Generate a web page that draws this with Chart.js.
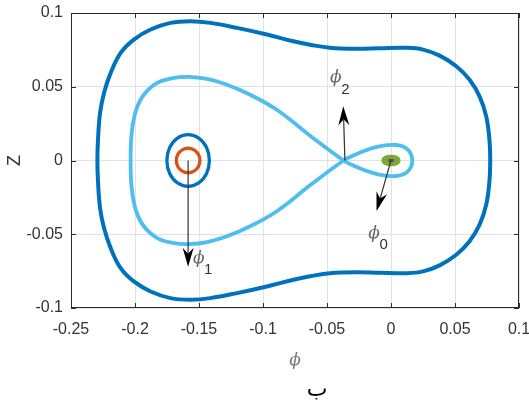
<!DOCTYPE html>
<html>
<head>
<meta charset="utf-8">
<script src="https://cdn.jsdelivr.net/npm/chart.js@4"></script>
<style>
  html, body { margin: 0; padding: 0; background: #fff; }
  #wrap { width: 529px; height: 405px; }
</style>
</head>
<body>
<div id="wrap"><canvas id="phaseChart"></canvas></div>
<script>
// tick values and labels
const xTicks = [-0.25, -0.2, -0.15, -0.1, -0.05, 0, 0.05, 0.1];
const xTickLabels = ["-0.25", "-0.2", "-0.15", "-0.1", "-0.05", "0", "0.05", "0.1"];
const yTicks = [-0.1, -0.05, 0, 0.05, 0.1];
const yTickLabels = ["-0.1", "-0.05", "0", "0.05", "0.1"];

// outer orbit, upper half from left to right (lower half is the mirror image)
const outerPhi = [-0.2294, -0.2289, -0.2273, -0.2242, -0.2190, -0.2112, -0.2009, -0.1878, -0.1723,
                  -0.1567, -0.1411, -0.1203, -0.0970, -0.0762, -0.0632, -0.0477, -0.0269, -0.0087,
                  0.0121, 0.0250, 0.0380, 0.0510, 0.0614, 0.0692, 0.0744, 0.0769, 0.0775];
const outerZ = [0, 0.0141, 0.0322, 0.0458, 0.0594, 0.0730, 0.0820, 0.0888, 0.0933,
                0.0944, 0.0933, 0.0899, 0.0854, 0.0808, 0.0785, 0.0764, 0.0757, 0.0761,
                0.0764, 0.0752, 0.0711, 0.0639, 0.0548, 0.0435, 0.0299, 0.0141, 0];

// separatrix (figure eight), left lobe from leftmost point to the crossing
const sepLeftPhi = [-0.2034, -0.2026, -0.1992, -0.1931, -0.1826, -0.1697, -0.1580, -0.1437,
                    -0.1281, -0.1100, -0.0892, -0.0620, -0.0370];
const sepLeftZ = [0, 0.0186, 0.0340, 0.0446, 0.0526, 0.0560, 0.0567, 0.0553,
                  0.0514, 0.0446, 0.0344, 0.0160, 0];
// right lobe from the crossing to rightmost point
const sepRightPhi = [-0.0370, -0.0290, -0.0200, -0.0110, -0.0030, 0.0040, 0.0098, 0.0138, 0.0160, 0.0166];
const sepRightZ = [0, 0.0036, 0.0068, 0.0092, 0.0104, 0.0105, 0.0094, 0.0068, 0.0035, 0];

// small orbit around phi1 (upper half)
const innerPhi = [-0.1751, -0.1729, -0.1668, -0.1585, -0.1502, -0.1441, -0.1419];
const innerZ = [0, 0.0088, 0.0152, 0.0175, 0.0152, 0.0088, 0];

// smallest orbit around phi1 (upper half)
const tinyPhi = [-0.1677, -0.1665, -0.1631, -0.1585, -0.1539, -0.1505, -0.1493];
const tinyZ = [0, 0.0042, 0.0072, 0.0083, 0.0072, 0.0042, 0];

// blob at phi0 (upper half)
const blobPhi = [-0.0055, -0.0039, 0, 0.0039, 0.0055];
const blobZ = [0, 0.0016, 0.0022, 0.0016, 0];

// fixed point marker
const centerPhi = [-0.002, 0.002];
const centerZ = [0, 0];

// arrows pointing at the equilibria
const arrowNames = ["1", "2", "0"];
const arrowFrom = [[-0.1585, 0], [-0.0360, 0], [0, 0]];
const arrowTo = [[-0.1585, -0.0720], [-0.0373, 0.0367], [-0.0113, -0.0343]];
const arrowText = [[-0.1502, -0.0663], [-0.0431, 0.0560], [-0.0132, -0.0493]];

function mirrorLoop(phi, z) {
    const pts = phi.map((p, i) => ({x: p, y: z[i]}));
    for (let i = phi.length - 2; i >= 1; i--) pts.push({x: phi[i], y: -z[i]});
    return pts;
}

function figureEight(lp, lz, rp, rz) {
    const pts = [{x: rp[0], y: 0}];
    for (let i = 1; i < rp.length; i++) pts.push({x: rp[i], y: -rz[i]});
    for (let i = rp.length - 2; i >= 1; i--) pts.push({x: rp[i], y: rz[i]});
    pts.push({x: lp[lp.length - 1], y: 0});
    for (let i = lp.length - 2; i >= 0; i--) pts.push({x: lp[i], y: -lz[i]});
    for (let i = 1; i <= lp.length - 2; i++) pts.push({x: lp[i], y: lz[i]});
    return pts;
}

// repeat the ends so the spline closes smoothly; the two extra end pieces are hidden
function closeLoop(pts) {
    const n = pts.length;
    return [pts[n - 1], ...pts, pts[0], pts[1]];
}

function curve(data, color, width, tension, loop) {
    const ds = {
        data: data,
        showLine: true,
        borderColor: color,
        borderWidth: width,
        pointRadius: 0,
        pointHoverRadius: 0,
        tension: tension,
        fill: false
    };
    if (loop) {
        ds.segment = {
            borderColor: c => (c.p0DataIndex === 0 || c.p1DataIndex === data.length - 1) ? "rgba(0,0,0,0)" : undefined
        };
    }
    return ds;
}

const tickFont = {family: "'Liberation Sans', Arial, sans-serif", size: 16};

const overlay = {
    id: "overlay",
    afterDatasetsDraw(chart) {
        const ctx = chart.ctx;
        const xs = chart.scales.x, ys = chart.scales.y;
        const a = chart.chartArea;
        ctx.save();

        // box and inward ticks
        ctx.strokeStyle = "#2b2b2b";
        ctx.lineWidth = 1;
        ctx.strokeRect(a.left + 0.5, a.top + 0.5, a.right - a.left - 1, a.bottom - a.top - 1);
        ctx.beginPath();
        xTicks.forEach(v => {
            const px = Math.round(xs.getPixelForValue(v)) + 0.5;
            ctx.moveTo(px, a.bottom); ctx.lineTo(px, a.bottom - 5);
            ctx.moveTo(px, a.top); ctx.lineTo(px, a.top + 5);
        });
        yTicks.forEach(v => {
            const py = Math.round(ys.getPixelForValue(v)) + 0.5;
            ctx.moveTo(a.left, py); ctx.lineTo(a.left + 5, py);
            ctx.moveTo(a.right, py); ctx.lineTo(a.right - 5, py);
        });
        ctx.stroke();

        // arrows
        arrowFrom.forEach((f, i) => {
            const x0 = xs.getPixelForValue(f[0]), y0 = ys.getPixelForValue(f[1]);
            const x1 = xs.getPixelForValue(arrowTo[i][0]), y1 = ys.getPixelForValue(arrowTo[i][1]);
            const ang = Math.atan2(y1 - y0, x1 - x0);
            const ux = Math.cos(ang), uy = Math.sin(ang);
            const L = 19, W = 11, notch = 6;
            ctx.strokeStyle = "#333";
            ctx.lineWidth = 1.2;
            ctx.beginPath();
            ctx.moveTo(x0, y0);
            ctx.lineTo(x1 - (L - notch) * ux, y1 - (L - notch) * uy);
            ctx.stroke();
            const bx = x1 - L * ux, by = y1 - L * uy;
            ctx.fillStyle = "#000";
            ctx.beginPath();
            ctx.moveTo(x1, y1);
            ctx.lineTo(bx - W / 2 * uy, by + W / 2 * ux);
            ctx.lineTo(x1 - (L - notch) * ux, y1 - (L - notch) * uy);
            ctx.lineTo(bx + W / 2 * uy, by - W / 2 * ux);
            ctx.closePath();
            ctx.fill();

            const tx = xs.getPixelForValue(arrowText[i][0]), ty = ys.getPixelForValue(arrowText[i][1]);
            ctx.textAlign = "center";
            ctx.textBaseline = "middle";
            ctx.fillStyle = "#666";
            ctx.font = "italic 17px 'DejaVu Serif', serif";
            ctx.fillText("\u03d5", tx, ty);
            ctx.fillStyle = "#333";
            ctx.font = "15px 'Liberation Sans', Arial, sans-serif";
            ctx.fillText(arrowNames[i], tx + 9.5, ty + 12);
        });

        // caption under the figure
        ctx.fillStyle = "#000";
        ctx.font = "22px 'DejaVu Sans', sans-serif";
        ctx.textAlign = "center";
        ctx.textBaseline = "middle";
        ctx.fillText("\u0628", 317, 390);
        ctx.restore();
    }
};

new Chart(document.getElementById("phaseChart"), {
    type: "scatter",
    data: {
        datasets: [
            curve([{x: centerPhi[0], y: centerZ[0]}, {x: centerPhi[1], y: centerZ[1]}], "#7E2F8E", 3, 0, false),
            Object.assign(curve(closeLoop(mirrorLoop(blobPhi, blobZ)), "#77AC30", 5, 0.4, true),
                {fill: "shape", backgroundColor: "#77AC30"}),
            curve(closeLoop(mirrorLoop(tinyPhi, tinyZ)), "#D95319", 3.3, 0.36, true),
            curve(closeLoop(mirrorLoop(innerPhi, innerZ)), "#0072BD", 3.3, 0.36, true),
            curve(closeLoop(figureEight(sepLeftPhi, sepLeftZ, sepRightPhi, sepRightZ)), "#4DBEEE", 3.8, 0.4, true),
            curve(closeLoop(mirrorLoop(outerPhi, outerZ)), "#0072BD", 4, 0.4, true)
        ]
    },
    options: {
        responsive: true,
        maintainAspectRatio: false,
        animation: false,
        events: [],
        layout: {padding: {left: 0, right: 10, top: 13, bottom: 28}},
        plugins: {
            legend: {display: false},
            tooltip: {enabled: false}
        },
        scales: {
            x: {
                type: "linear",
                min: -0.25,
                max: 0.1,
                afterBuildTicks: s => { s.ticks = xTicks.map(v => ({value: v})); },
                afterFit: s => { s.height = 69; s.paddingLeft = 0; s.paddingRight = 0; },
                ticks: {
                    callback: (v, i) => xTickLabels[i],
                    font: tickFont,
                    color: "#333",
                    padding: 12,
                    maxRotation: 0,
                    autoSkip: false
                },
                grid: {color: "#e2e2e2", drawTicks: false},
                border: {display: false},
                title: {
                    display: true,
                    text: "\u03d5",
                    color: "#777",
                    font: {family: "'DejaVu Serif', serif", style: "italic", size: 17},
                    padding: {top: 0, bottom: 6}
                }
            },
            y: {
                type: "linear",
                min: -0.1,
                max: 0.1,
                afterBuildTicks: s => { s.ticks = yTicks.map(v => ({value: v})); },
                afterFit: s => { s.width = 71; s.paddingTop = 0; s.paddingBottom = 0; },
                ticks: {
                    callback: (v, i) => yTickLabels[i],
                    font: tickFont,
                    color: "#333",
                    padding: 8,
                    autoSkip: false
                },
                grid: {color: "#e2e2e2", drawTicks: false},
                border: {display: false},
                title: {
                    display: true,
                    text: "Z",
                    color: "#333",
                    font: {family: "'Liberation Sans', Arial, sans-serif", size: 18},
                    padding: {top: 4, bottom: 0}
                }
            }
        }
    },
    plugins: [overlay]
});
</script>
</body>
</html>
